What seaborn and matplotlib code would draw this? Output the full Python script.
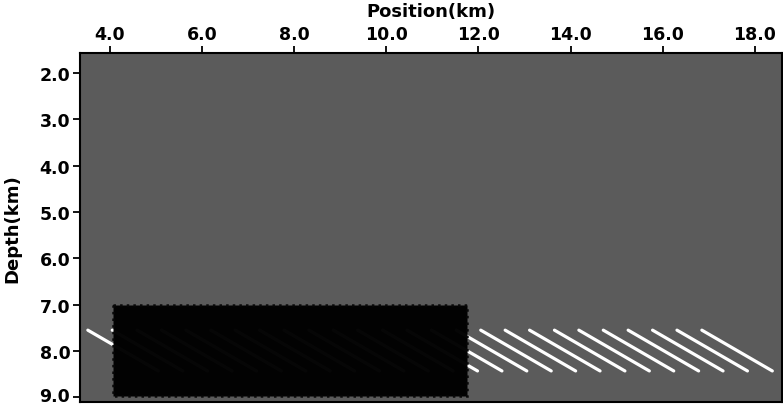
import numpy as np
import pandas as pd
import matplotlib
matplotlib.use("Agg")
import matplotlib.pyplot as plt
from matplotlib.patches import Rectangle
from matplotlib.transforms import ScaledTranslation
import seaborn as sns

# Dipping reflector segments: start position (km) of each segment
seg_start = [3.52, 4.05, 4.59, 5.12, 5.65, 6.19, 6.72, 7.25, 7.78, 8.32,
             8.85, 9.38, 9.92, 10.45, 10.98, 11.52, 12.05, 12.58, 13.11,
             13.65, 14.18, 14.71, 15.25, 15.78, 16.31, 16.85]
seg_length = 1.53          # horizontal extent of a segment (km)
seg_top, seg_bottom = 7.55, 8.43   # depth range of a segment (km)

# Masked (black) block
box_x = [4.07, 11.75]
box_z = [7.0, 8.96]

x_ticks = [4.0, 6.0, 8.0, 10.0, 12.0, 14.0, 16.0, 18.0]
z_ticks = [2.0, 3.0, 4.0, 5.0, 6.0, 7.0, 8.0, 9.0]
x_lim = (3.35, 18.59)
z_lim = (9.1, 1.57)

rows = []
for i, x0 in enumerate(seg_start):
    rows.append({"seg": i, "x": x0, "z": seg_top})
    rows.append({"seg": i, "x": x0 + seg_length, "z": seg_bottom})
df = pd.DataFrame(rows)

sns.set_style("white")
plt.rcParams['font.family'] = ['DejaVu Sans']
plt.rcParams['font.weight'] = 'bold'
plt.rcParams['text.color'] = 'black'
plt.rcParams['xtick.color'] = 'black'
plt.rcParams['ytick.color'] = 'black'
plt.rcParams['axes.labelcolor'] = 'black'

fig = plt.figure(figsize=(7.83, 4.06), dpi=100)
ax = fig.add_axes([80/783, 1 - 403/406, 702/783, 349/406])
ax.set_facecolor('#5b5b5b')

sns.lineplot(data=df, x='x', y='z', units='seg', estimator=None,
             color='white', linewidth=2.3, ax=ax, sort=False)

ax.add_patch(Rectangle((box_x[0], box_z[0]), box_x[1] - box_x[0],
                       box_z[1] - box_z[0], facecolor='black',
                       edgecolor='#080808', linewidth=1.8, linestyle=':',
                       alpha=0.975, zorder=3))

ax.set_xlim(*x_lim)
ax.set_ylim(*z_lim)
ax.xaxis.tick_top()
ax.xaxis.set_label_position('top')
ax.set_xticks(x_ticks)
ax.set_yticks(z_ticks)
ax.set_xticklabels([f"{v:.1f}" for v in x_ticks], fontsize=12.5, fontweight='bold')
ax.set_yticklabels([f"{v:.1f}" for v in z_ticks], fontsize=12.5, fontweight='bold')
ax.set_xlabel('Position(km)', fontsize=13, fontweight='bold', labelpad=7)
ax.set_ylabel('Depth(km)', fontsize=13, fontweight='bold', labelpad=13)
ax.tick_params(axis='both', direction='out', length=5, width=1.3, pad=2,
               top=True, bottom=False, left=True)
for s in ax.spines.values():
    s.set_linewidth(1.5)
    s.set_color('black')

# keep the bottom tick label inside the canvas
last = ax.get_yticklabels()[-1]
last.set_transform(last.get_transform() + ScaledTranslation(0, 3/100, fig.dpi_scale_trans))

fig.savefig('out.png', dpi=100)
